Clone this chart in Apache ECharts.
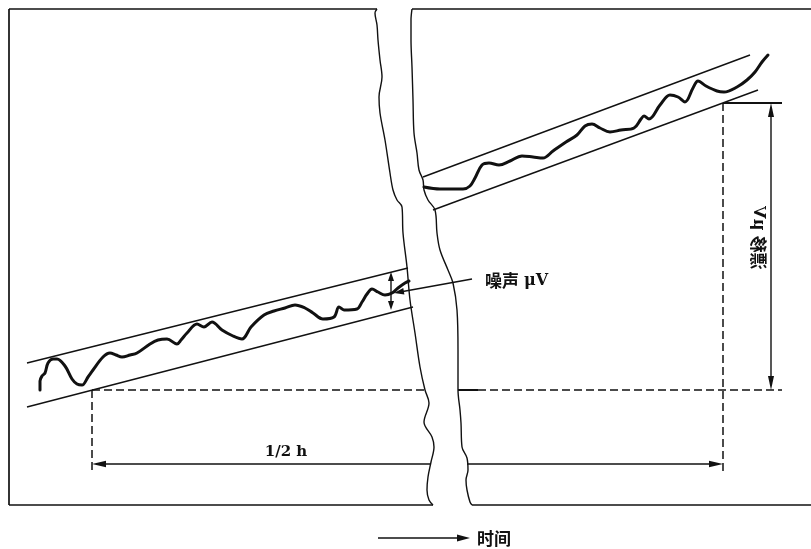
<!DOCTYPE html>
<html>
<head>
<meta charset="utf-8">
<script src="https://cdn.jsdelivr.net/npm/echarts@6/dist/echarts.min.js"></script>
<style>
  html, body { margin: 0; padding: 0; background: #fff; }
  #chart { width: 811px; height: 549px; }
</style>
</head>
<body>
<div id="chart"></div>
<script>
// Baseline noise and drift diagram, drawn on a 811 x 549 value plane (y grows downward).

// Outer frame, split where the time axis is broken
const frameTopLeft = [[9, 9], [377, 9]];
const frameTopRight = [[412, 9], [811, 9]];
const frameLeft = [[9, 9], [9, 505]];
const frameBottomLeft = [[9, 505], [433, 505]];
const frameBottomRight = [[472, 505], [811, 505]];

// Wavy edges of the time-axis break
const breakLeft = [[377, 9], [375, 13], [377, 25], [378, 40], [380, 60], [382, 77], [379, 97], [380, 113],
  [385, 140], [390, 173], [393, 190], [397, 200], [402, 207], [403, 233], [407, 267], [410, 300],
  [415, 333], [420, 367], [425, 390], [429, 403], [424, 422], [432, 437], [434, 447], [431, 462],
  [428, 477], [427, 490], [429, 500], [433, 505]];
const breakRight = [[412, 9], [411, 20], [411, 40], [412, 67], [413, 100], [414, 133], [417, 153],
  [419, 170], [423, 180], [424, 190], [428, 200], [435, 210], [437, 233], [440, 250], [448, 270],
  [453, 283], [457, 310], [458, 350], [458, 390], [460, 410], [461, 423], [462, 447], [467, 458],
  [468, 470], [466, 480], [467, 490], [470, 502], [472, 505]];

// Envelope lines bounding the noise band (early and late segments)
const bandEarlyTop = [[27, 363], [408, 268]];
const bandEarlyBottom = [[27, 407], [413, 307]];
const bandLateTop = [[423, 177], [750, 55]];
const bandLateBottom = [[433, 210], [758, 90]];

// Recorded baseline signal
const signalEarly = [[40, 390], [40, 381], [42, 376], [45, 373], [48, 363], [53, 359], [57, 359],
  [65, 366], [72, 379], [77, 384], [82, 385], [88, 377], [93, 370], [103, 357], [110, 353],
  [116, 355], [122, 357], [130, 355], [137, 353], [150, 344], [158, 340], [167, 339], [177, 344],
  [181, 340], [187, 333], [197, 324], [204, 327], [212, 322], [222, 330], [233, 336], [242, 339],
  [251, 327], [264, 315], [274, 311], [285, 308], [295, 305], [305, 308], [313, 313], [323, 319],
  [334, 317], [339, 307], [344, 310], [357, 309], [362, 302], [367, 294], [372, 289], [378, 292],
  [385, 295], [392, 293], [398, 288], [405, 283], [409, 281]];
const signalLate = [[424, 187], [440, 189], [463, 189], [470, 186], [475, 178], [482, 165],
  [489, 163], [499, 165], [510, 161], [522, 156], [533, 157], [543, 158], [553, 151], [566, 142],
  [577, 135], [585, 126], [592, 124], [600, 128], [610, 132], [621, 130], [634, 128], [641, 119],
  [644, 116], [649, 119], [660, 105], [670, 95], [678, 97], [685, 102], [693, 88], [698, 81],
  [706, 86], [717, 91], [724, 92], [737, 87], [747, 80], [755, 72], [762, 62], [768, 55]];

// Dimension lines
const baseDashLeft = [[92, 390], [425, 390]];
const baseDashRight = [[478, 390], [782, 390]];
const baseSolidRight = [[458, 390], [478, 390]];
const startDash = [[92, 390], [92, 473]];
const endDash = [[723, 103], [723, 473]];
const driftTop = [[723, 103], [782, 103]];
const driftArrow = [[771, 108], [771, 385]];
const halfLeft = [[96, 464], [431, 464]];
const halfRight = [[467, 464], [718, 464]];
const noiseArrow = [[391, 276], [391, 306]];
const noiseLeader = [[472, 279], [400, 292]];
const timeArrow = [[378, 538], [464, 538]];

// Arrow tips: [tipX, tipY, fromX, fromY, length, halfWidth]
const arrowTips = [
  [771, 103, 771, 200, 14, 3],
  [771, 390, 771, 300, 14, 3],
  [92, 464, 200, 464, 14, 3.2],
  [723, 464, 600, 464, 14, 3.2],
  [391, 272, 391, 291, 9, 3],
  [391, 310, 391, 291, 9, 3],
  [394, 293, 472, 279, 10, 3.2],
  [470, 538, 400, 538, 13, 3.5]
];

// Annotation texts and anchors
const labelText = ['噪声|μV', '1/2 h', '漂移|μV', '时间'];
const labelPos = [[485, 281], [286, 452], [758, 238], [477, 539]];

const CJK = "'Noto Sans CJK SC', sans-serif";
const LATIN = "'DejaVu Serif', 'Liberation Serif', serif";

// Text blocks: CJK run followed by a serif Latin run
function richText(str) {
  const parts = str.split('|');
  return parts.length === 1 ? str : '{c|' + parts[0] + '}{l|' + parts[1] + '}';
}

function path(pts, width, extra) {
  return Object.assign({
    type: 'line',
    data: pts,
    symbol: 'none',
    silent: true,
    animation: false,
    lineStyle: { color: '#111', width: width },
    z: 2
  }, extra || {});
}

function dashed(pts) {
  return path(pts, 1.5, { lineStyle: { color: '#111', width: 1.5, type: [8, 4] } });
}

const traceStyle = { color: '#111', width: 3, join: 'round', cap: 'round' };

const series = [
  path(frameTopLeft, 1.7), path(frameTopRight, 1.7), path(frameLeft, 1.7),
  path(frameBottomLeft, 1.7), path(frameBottomRight, 1.7),
  path(breakLeft, 1.4, { smooth: 0.35 }), path(breakRight, 1.4, { smooth: 0.35 }),
  path(bandEarlyTop, 1.4), path(bandEarlyBottom, 1.4),
  path(bandLateTop, 1.4), path(bandLateBottom, 1.4),
  path(signalEarly, 3, { smooth: 0.35, lineStyle: traceStyle }),
  path(signalLate, 3, { smooth: 0.35, lineStyle: traceStyle }),
  dashed(baseDashLeft), dashed(baseDashRight), path(baseSolidRight, 2),
  dashed(startDash), dashed(endDash),
  path(driftTop, 1.8), path(driftArrow, 1.4),
  path(halfLeft, 1.6), path(halfRight, 1.6),
  path(noiseArrow, 1.4), path(noiseLeader, 1.4),
  path(timeArrow, 1.4),
  {
    type: 'custom',
    silent: true,
    animation: false,
    z: 3,
    data: arrowTips,
    renderItem: function (params, api) {
      const t = api.coord([api.value(0), api.value(1)]);
      const f = api.coord([api.value(2), api.value(3)]);
      const L = api.value(4), hw = api.value(5);
      const dx = t[0] - f[0], dy = t[1] - f[1];
      const len = Math.hypot(dx, dy);
      const ux = dx / len, uy = dy / len;
      const bx = t[0] - ux * L, by = t[1] - uy * L;
      return {
        type: 'polygon',
        shape: { points: [t, [bx - uy * hw, by + ux * hw], [bx + uy * hw, by - ux * hw]] },
        style: { fill: '#111' }
      };
    }
  },
  {
    type: 'custom',
    silent: true,
    animation: false,
    z: 4,
    data: labelPos,
    renderItem: function (params, api) {
      const p = api.coord([api.value(0), api.value(1)]);
      const i = params.dataIndex;
      const rich = {
        c: { fontFamily: CJK, fontWeight: 'bold', fontSize: 17, fill: '#111', padding: [0, 5, 0, 0] },
        l: { fontFamily: LATIN, fontWeight: 'bold', fontSize: 16, fill: '#111' }
      };
      const el = {
        type: 'text',
        x: p[0],
        y: p[1],
        style: {
          text: richText(labelText[i]),
          rich: rich,
          fill: '#111',
          fontWeight: 'bold',
          fontFamily: i === 1 ? LATIN : CJK,
          fontSize: i === 1 ? 15 : 17,
          align: (i === 0 || i === 3) ? 'left' : 'center',
          verticalAlign: 'middle'
        }
      };
      if (i === 2) {
        el.rotation = Math.PI / 2;
        el.scaleY = -1;
      }
      return el;
    }
  }
];

const chart = echarts.init(document.getElementById('chart'), null, { renderer: 'canvas' });
chart.setOption({
  animation: false,
  backgroundColor: '#fff',
  grid: { left: 0, right: 0, top: 0, bottom: 0 },
  xAxis: { type: 'value', min: 0, max: 811, show: false },
  yAxis: { type: 'value', min: 0, max: 549, inverse: true, show: false },
  series: series
});
</script>
</body>
</html>
